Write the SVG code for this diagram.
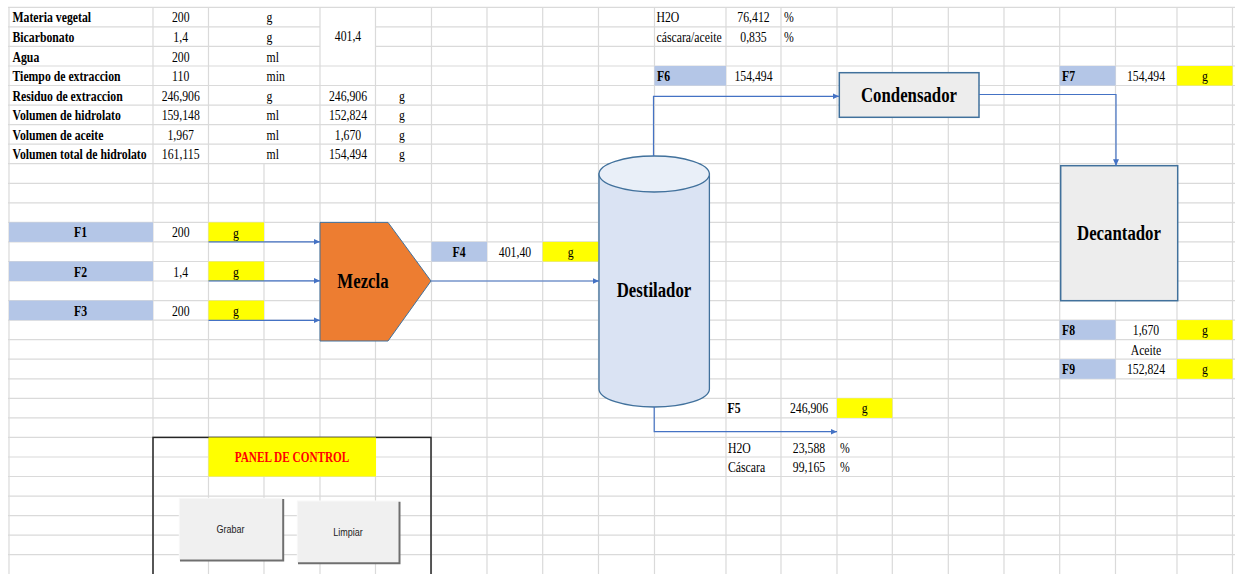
<svg xmlns="http://www.w3.org/2000/svg" width="1235" height="574" viewBox="0 0 1235 574">
<style>
.t{font-family:"Liberation Serif","Times New Roman",serif;font-size:14px;fill:#000}
.b{font-weight:bold}
.m{text-anchor:middle}
.L{font-size:20px;font-weight:bold}
.btn{font-family:"Liberation Sans",Arial,sans-serif;font-size:11px;fill:#222;text-anchor:middle}
.blue{fill:#b4c6e7}
.yel{fill:#ffff00}
.con{fill:none;stroke:#4472c4;stroke-width:1.2;marker-end:url(#ah)}
.box{fill:#ededed;stroke:#41719c;stroke-width:1.5}
</style>
<defs>
<marker id="ah" markerWidth="8" markerHeight="8" refX="6.5" refY="4" orient="auto" markerUnits="userSpaceOnUse"><path d="M0,1 L6.5,4 L0,7 Z" fill="#4472c4"/></marker>
</defs>
<rect width="1235" height="574" fill="#fff"/>
<g id="grid" fill="none" stroke="#dadada" stroke-width="1.2">
<path d="M8 7.3H1235M8 26.9H320M376 26.9H1235M8 46.4H320M376 46.4H1235M8 66H1235M8 85.5H1235M8 105.1H1235M8 124.6H1235M8 144.2H1235M8 163.7H1235M8 183.3H1235M8 202.8H1235M8 222.4H1235M8 241.9H1235M8 261.5H1235M8 281H1235M8 300.6H1235M8 320.1H1235M8 339.7H1235M8 359.2H1235M8 378.8H1235M8 398.3H1235M8 417.9H1235M8 437.4H1235M8 457H1235M8 476.5H1235M8 496.1H1235M8 515.6H1235M8 535.2H1235M8 554.7H1235"/>
<path d="M9 7.3V574M153 7.3V574M208.5 7.3V574M264 163.7V574M320 7.3V574M375.5 7.3V574M431.5 7.3V574M487 7.3V574M542.7 7.3V574M598.5 7.3V574M654.5 7.3V574M726 7.3V574M781 7.3V574M837 7.3V574M892.3 7.3V574M948.3 7.3V574M1004 7.3V574M1059.7 7.3V574M1115.5 7.3V574M1177 7.3V574M1232.5 7.3V574"/>
</g>
<g id="fills">
<rect class="blue" x="9" y="222.4" width="144" height="19.5"/>
<rect class="blue" x="9" y="261.5" width="144" height="19.5"/>
<rect class="blue" x="9" y="300.6" width="144" height="19.5"/>
<rect class="blue" x="431.5" y="241.9" width="55.5" height="19.6"/>
<rect class="blue" x="654.5" y="66" width="71.5" height="19.5"/>
<rect class="blue" x="1059.7" y="66" width="55.8" height="19.5"/>
<rect class="blue" x="1059.7" y="320.1" width="55.8" height="19.6"/>
<rect class="blue" x="1059.7" y="359.2" width="55.8" height="19.6"/>
<rect class="yel" x="208.5" y="222.4" width="55.5" height="19.5"/>
<rect class="yel" x="208.5" y="261.5" width="55.5" height="19.5"/>
<rect class="yel" x="208.5" y="300.6" width="55.5" height="19.5"/>
<rect class="yel" x="542.7" y="241.9" width="55.8" height="19.6"/>
<rect class="yel" x="837" y="398.3" width="55.3" height="19.6"/>
<rect class="yel" x="1177" y="66" width="55.5" height="19.5"/>
<rect class="yel" x="1177" y="320.1" width="55.5" height="19.6"/>
<rect class="yel" x="1177" y="359.2" width="55.5" height="19.6"/>
</g>
<g id="data-table">
<text class="t b" transform="translate(12.5,22.4) scale(.84,1)">Materia vegetal</text>
<text class="t m" transform="translate(180.7,22.4) scale(.84,1)">200</text>
<text class="t" transform="translate(266.5,22.4) scale(.84,1)">g</text>
<text class="t b" transform="translate(12.5,41.9) scale(.84,1)">Bicarbonato</text>
<text class="t m" transform="translate(180.7,41.9) scale(.84,1)">1,4</text>
<text class="t" transform="translate(266.5,41.9) scale(.84,1)">g</text>
<text class="t m" transform="translate(348,41) scale(.84,1)">401,4</text>
<text class="t b" transform="translate(12.5,61.5) scale(.84,1)">Agua</text>
<text class="t m" transform="translate(180.7,61.5) scale(.84,1)">200</text>
<text class="t" transform="translate(266.5,61.5) scale(.84,1)">ml</text>
<text class="t b" transform="translate(12.5,81) scale(.84,1)">Tiempo de extraccion</text>
<text class="t m" transform="translate(180.7,81) scale(.84,1)">110</text>
<text class="t" transform="translate(266.5,81) scale(.84,1)">min</text>
<text class="t b" transform="translate(12.5,100.6) scale(.84,1)">Residuo de extraccion</text>
<text class="t m" transform="translate(180.7,100.6) scale(.84,1)">246,906</text>
<text class="t" transform="translate(266.5,100.6) scale(.84,1)">g</text>
<text class="t m" transform="translate(348,100.6) scale(.84,1)">246,906</text>
<text class="t m" transform="translate(402,100.6) scale(.84,1)">g</text>
<text class="t b" transform="translate(12.5,120.1) scale(.84,1)">Volumen de hidrolato</text>
<text class="t m" transform="translate(180.7,120.1) scale(.84,1)">159,148</text>
<text class="t" transform="translate(266.5,120.1) scale(.84,1)">ml</text>
<text class="t m" transform="translate(348,120.1) scale(.84,1)">152,824</text>
<text class="t m" transform="translate(402,120.1) scale(.84,1)">g</text>
<text class="t b" transform="translate(12.5,139.7) scale(.84,1)">Volumen de aceite</text>
<text class="t m" transform="translate(180.7,139.7) scale(.84,1)">1,967</text>
<text class="t" transform="translate(266.5,139.7) scale(.84,1)">ml</text>
<text class="t m" transform="translate(348,139.7) scale(.84,1)">1,670</text>
<text class="t m" transform="translate(402,139.7) scale(.84,1)">g</text>
<text class="t b" transform="translate(12.5,159.2) scale(.84,1)">Volumen total de hidrolato</text>
<text class="t m" transform="translate(180.7,159.2) scale(.84,1)">161,115</text>
<text class="t" transform="translate(266.5,159.2) scale(.84,1)">ml</text>
<text class="t m" transform="translate(348,159.2) scale(.84,1)">154,494</text>
<text class="t m" transform="translate(402,159.2) scale(.84,1)">g</text>
</g>
<g id="composition-top">
<text class="t" transform="translate(656.5,22.4) scale(.84,1)">H2O</text>
<text class="t m" transform="translate(753.5,22.4) scale(.84,1)">76,412</text>
<text class="t" transform="translate(784,22.4) scale(.84,1)">%</text>
<text class="t" transform="translate(656.5,41.9) scale(.84,1)">cáscara/aceite</text>
<text class="t m" transform="translate(753.5,41.9) scale(.84,1)">0,835</text>
<text class="t" transform="translate(784,41.9) scale(.84,1)">%</text>
</g>
<g id="streams">
<text class="t b m" transform="translate(80.5,237.4) scale(.84,1)">F1</text>
<text class="t m" transform="translate(180.7,237.4) scale(.84,1)">200</text>
<text class="t m" transform="translate(236,238) scale(.84,1)">g</text>
<text class="t b m" transform="translate(80.5,276.5) scale(.84,1)">F2</text>
<text class="t m" transform="translate(180.7,276.5) scale(.84,1)">1,4</text>
<text class="t m" transform="translate(236,277) scale(.84,1)">g</text>
<text class="t b m" transform="translate(80.5,315.6) scale(.84,1)">F3</text>
<text class="t m" transform="translate(180.7,315.6) scale(.84,1)">200</text>
<text class="t m" transform="translate(236,316.2) scale(.84,1)">g</text>
<text class="t b m" transform="translate(459,257) scale(.84,1)">F4</text>
<text class="t m" transform="translate(515,257) scale(.84,1)">401,40</text>
<text class="t m" transform="translate(570.6,257) scale(.84,1)">g</text>
<text class="t b" transform="translate(657,81) scale(.84,1)">F6</text>
<text class="t m" transform="translate(753.5,81) scale(.84,1)">154,494</text>
<text class="t b" transform="translate(1062,81) scale(.84,1)">F7</text>
<text class="t m" transform="translate(1146,81) scale(.84,1)">154,494</text>
<text class="t m" transform="translate(1205,81) scale(.84,1)">g</text>
<text class="t b" transform="translate(1062,335.2) scale(.84,1)">F8</text>
<text class="t m" transform="translate(1146,335.2) scale(.84,1)">1,670</text>
<text class="t m" transform="translate(1205,335.2) scale(.84,1)">g</text>
<text class="t m" transform="translate(1146,354.7) scale(.84,1)">Aceite</text>
<text class="t b" transform="translate(1062,374.3) scale(.84,1)">F9</text>
<text class="t m" transform="translate(1146,374.3) scale(.84,1)">152,824</text>
<text class="t m" transform="translate(1205,374.3) scale(.84,1)">g</text>
<text class="t b" transform="translate(727.5,412.5) scale(.84,1)">F5</text>
<text class="t m" transform="translate(809,412.5) scale(.84,1)">246,906</text>
<text class="t m" transform="translate(864.6,412.5) scale(.84,1)">g</text>
<text class="t" transform="translate(728,452.5) scale(.84,1)">H2O</text>
<text class="t m" transform="translate(809,452.5) scale(.84,1)">23,588</text>
<text class="t" transform="translate(840,452.5) scale(.84,1)">%</text>
<text class="t" transform="translate(728,472) scale(.84,1)">Cáscara</text>
<text class="t m" transform="translate(809,472) scale(.84,1)">99,165</text>
<text class="t" transform="translate(840,472) scale(.84,1)">%</text>
</g>
<g id="mezcla">
<polygon points="320,222.4 388,222.4 431,281 388,341 320,341" fill="#ed7d31" stroke="#41719c" stroke-width="1"/>
<text class="t L m" transform="translate(363,287.7) scale(.84,1)">Mezcla</text>
</g>
<g id="destilador">
<path d="M599,174 V389 A55.2,18 0 0 0 709.4,389 V174 Z" fill="#dae3f3" stroke="#41719c" stroke-width="1.3"/>
<ellipse cx="654.2" cy="174" rx="55.2" ry="18" fill="#e9eff8" stroke="#41719c" stroke-width="1.3"/>
<text class="t L m" transform="translate(654,297.3) scale(.84,1)">Destilador</text>
</g>
<g id="condensador">
<rect class="box" x="839.3" y="72.7" width="139.7" height="44.6"/>
<text class="t L m" transform="translate(909,101.7) scale(.84,1)">Condensador</text>
</g>
<g id="decantador">
<rect class="box" x="1060.7" y="165.7" width="117" height="135"/>
<text class="t L m" transform="translate(1119,240) scale(.84,1)">Decantador</text>
</g>
<g id="panel">
<rect x="153" y="437.4" width="278" height="140" fill="none" stroke="#262626" stroke-width="1.5"/>
<rect class="yel" x="208.5" y="437.4" width="167.5" height="39.1"/>
<text class="t b m" style="font-size:15px;fill:#ff0000" transform="translate(292,461.7) scale(.75,1)">PANEL DE CONTROL</text>
</g>
<g id="btn-grabar">
<rect x="179.3" y="498.3" width="103.4" height="61.7" fill="#f0f0f0" stroke="#f8f8f8" stroke-width="1"/>
<path d="M180,560.5 H283.2 V499" fill="none" stroke="#6f6f6f" stroke-width="2"/>
<text class="btn" transform="translate(230.5,532.7) scale(.82,1)">Grabar</text>
</g>
<g id="btn-limpiar">
<rect x="297.3" y="501" width="101.7" height="61.7" fill="#f0f0f0" stroke="#f8f8f8" stroke-width="1"/>
<path d="M298,563.2 H399.5 V501.7" fill="none" stroke="#6f6f6f" stroke-width="2"/>
<text class="btn" transform="translate(348,536) scale(.82,1)">Limpiar</text>
</g>
<g id="connectors">
<path class="con" d="M208.5,241.8 H320"/>
<path class="con" d="M208.5,280.8 H320"/>
<path class="con" d="M208.5,320.3 H320"/>
<path class="con" d="M431,281 H599"/>
<path class="con" d="M653.5,156 V96.3 H839"/>
<path class="con" d="M979,94.5 H1116 V165.7"/>
<path class="con" d="M654.2,407 V431.7 H837"/>
</g>
</svg>
